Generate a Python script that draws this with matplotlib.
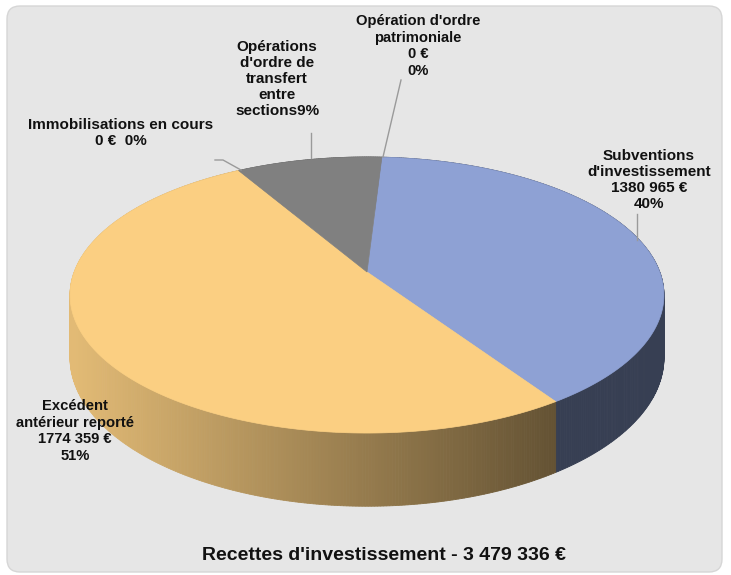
import numpy as np
import matplotlib
matplotlib.use("Agg")
import matplotlib.pyplot as plt
from matplotlib.patches import Polygon, FancyBboxPatch

# ---- data ----
categories = ["Subventions d'investissement", "Excédent antérieur reporté",
              "Immobilisations en cours", "Opérations d'ordre de transfert entre sections",
              "Opération d'ordre patrimoniale"]
values = [1380965, 1774359, 0, 324012, 0]
labels = ["Subventions\nd'investissement\n1380 965 €\n40%",
          "Excédent\nantérieur reporté\n1774 359 €\n51%",
          "Immobilisations en cours\n0 €  0%",
          "Opérations\nd'ordre de\ntransfert\nentre\nsections9%",
          "Opération d'ordre\npatrimoniale\n0 €\n0%"]
title = "Recettes d'investissement - 3 479 336 €"
colors = ["#8EA1D4", "#FBCF82", "#A5A5A5", "#808080", "#5B9BD5"]

# ---- geometry (pixel space, y down) ----
W, H = 731, 575
cx, cy = 367, 272
k = 0.1667
s, t, v = 292.8, 134.2, 61.0
start = 86.6

def proj(theta, z):
    th = np.radians(theta)
    x, y = np.cos(th), np.sin(th)
    w = 1 + k * y
    return cx + s * x / w, cy - (t * y + v * z) / w

fig = plt.figure(figsize=(W / 100, H / 100), dpi=100)
ax = fig.add_axes([0, 0, 1, 1])
ax.set_xlim(0, W)
ax.set_ylim(H, 0)
ax.axis("off")
fig.patch.set_facecolor("white")

bg = FancyBboxPatch((7, 6), 715, 566, boxstyle="round,pad=0,rounding_size=13",
                    facecolor="#E6E6E6", edgecolor="#D6D6D6", linewidth=1.0)
ax.add_patch(bg)

vals = np.array(values, dtype=float)
fr = vals / vals.sum()
bounds = start - np.concatenate([[0], np.cumsum(fr)]) * 360

def shade(rgb, X):
    f = 0.90 - 0.50 * (X - 75) / (553 - 75)
    f = min(max(f, 0.39), 0.90)
    return tuple(min(1, c * f) for c in rgb)

# side faces
quads = []
for i in range(len(values)):
    a0, a1 = bounds[i], bounds[i + 1]
    if a0 - a1 <= 0:
        continue
    n = max(2, int((a0 - a1) / 0.5))
    angs = np.linspace(a0, a1, n + 1)
    rgb = matplotlib.colors.to_rgb(colors[i])
    for j in range(n):
        p0, p1 = angs[j], angs[j + 1]
        xa, ya = proj(p0, 0)
        xb, yb = proj(p1, 0)
        xc, yc = proj(p1, -1)
        xd, yd = proj(p0, -1)
        depth = np.sin(np.radians((p0 + p1) / 2))
        col = shade(rgb, (xa + xb) / 2)
        if i == 0:
            col = shade(rgb, 700)
        quads.append((depth, [(xa, ya), (xb, yb), (xc, yc), (xd, yd)], col))
quads.sort(key=lambda q: -q[0])
for d, pts, col in quads:
    ax.add_patch(Polygon(pts, closed=True, facecolor=col, edgecolor=col, linewidth=0.6))

# top faces
for i in range(len(values)):
    a0, a1 = bounds[i], bounds[i + 1]
    if a0 - a1 <= 0:
        continue
    angs = np.linspace(a0, a1, 200)
    pts = [(cx, cy)] + [proj(a, 0) for a in angs]
    ax.add_patch(Polygon(pts, closed=True, facecolor=colors[i], edgecolor=colors[i], linewidth=0.5))

# leader lines
lc = "#9A9A9A"
ax.plot([401, 383], [80, 157], color=lc, lw=1)
ax.plot([311, 311], [133, 158], color=lc, lw=1)
ax.plot([215, 223, 241], [160, 160, 170], color=lc, lw=1)
ax.plot([637, 637], [214, 240], color=lc, lw=1)

fam = ["Liberation Sans", "DejaVu Sans"]
kw = dict(ha="center", va="center", fontweight="bold", family=fam,
          color="#111111", linespacing=1.18)
ax.text(649, 180, labels[0], fontsize=11, **kw)
ax.text(75, 431, labels[1], fontsize=10.6, **dict(kw, linespacing=1.25))
ax.text(121, 133, labels[2], fontsize=11, **kw)
ax.text(277, 79, labels[3], fontsize=11, **kw)
ax.text(418, 46, labels[4], fontsize=10.6, **dict(kw, linespacing=1.25))
ax.text(384, 555, title, ha="center", va="center", fontweight="bold",
        family=fam, fontsize=14, color="#111111")

fig.savefig("out.png", dpi=100, facecolor="white")
